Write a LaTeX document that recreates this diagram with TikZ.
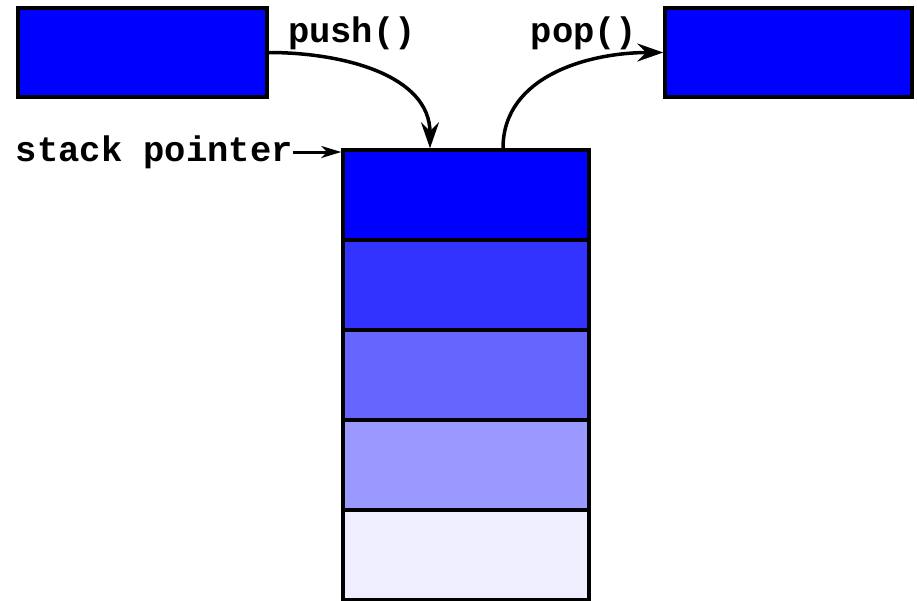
\documentclass[tikz,border=0pt]{standalone}
\usepackage{fontspec}
\newfontfamily\codefont{Liberation Mono}
\usepackage{tikz}
\usetikzlibrary{arrows.meta}
\usepackage{xcolor}
\definecolor{cellA}{HTML}{0000FF}
\definecolor{cellB}{HTML}{3333FF}
\definecolor{cellC}{HTML}{6666FF}
\definecolor{cellD}{HTML}{9999FF}
\definecolor{cellE}{HTML}{EEEEFF}

\begin{document}
\begin{tikzpicture}[x=1pt,y=-1pt,
    cell/.style={draw=black,line width=3.5pt,minimum width=246pt,minimum height=90pt,inner sep=0pt},
    code/.style={inner sep=0pt,font=\codefont\bfseries\fontsize{35.5}{40}\selectfont},
    arr/.style={line width=3.5pt,-{Stealth[length=26pt,width=18pt,inset=9pt]}}]
   \useasboundingbox (0,0) rectangle (917,600);
   % the two loose items
   \node[cell,fill=cellA,minimum width=249pt,minimum height=89pt] (src) at (142.5,52.5) {};
   \node[cell,fill=cellA,minimum width=247pt,minimum height=89pt] (dst) at (788.5,52.5) {};
   % the stack itself
   \foreach \i/\c in {1/cellA,2/cellB,3/cellC,4/cellD,5/cellE}
      \node[cell,fill=\c] (s\i) at (466,{195+90*(\i-1)}) {};
   % labels
   \node[code] (pushlbl) at (352,33) {push()};
   \node[code] (poplbl) at (584,33) {pop()};
   \node[code,anchor=east] (sp) at (293,152) {stack pointer};
   % arrows
   \draw[arr] (src.east) to[out=0,in=90] ([xshift=-36pt]s1.north);
   \draw[arr] ([xshift=37pt]s1.north) to[out=90,in=180] (dst.west);
   \draw[line width=3pt,-{Stealth[length=20pt,width=12pt,inset=6pt]}] (sp.east) -- (sp.east -| s1.west);
\end{tikzpicture}
\end{document}
